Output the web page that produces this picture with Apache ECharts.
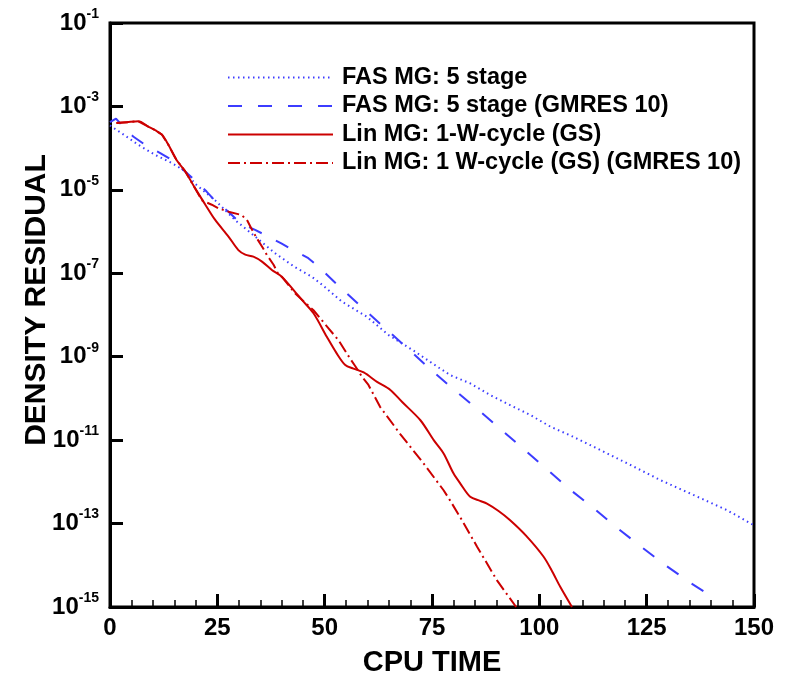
<!DOCTYPE html>
<html>
<head>
<meta charset="utf-8">
<script src="https://cdn.jsdelivr.net/npm/echarts@6/dist/echarts.min.js"></script>
<style>html,body{margin:0;padding:0;background:#fff}#c{width:788px;height:675px}</style>
</head>
<body>
<div id="c"></div>
<script>
// ---- data ----
const seriesNames = [
  'FAS MG: 5 stage',
  'FAS MG: 5 stage (GMRES 10)',
  'Lin MG: 1-W-cycle (GS)',
  'Lin MG: 1 W-cycle (GS) (GMRES 10)'
];
const xTicks = [0, 25, 50, 75, 100, 125, 150];
const yTickExponents = [-15, -13, -11, -9, -7, -5, -3, -1];

const fasX = [0, 3.5, 6.6, 10.5, 14.4, 17.5, 19.8, 24.5, 29.1, 33.8, 38.5, 43.1, 47, 49.7, 54, 59.8, 64.9, 70.7, 76.2, 79.3, 83.9, 88.6, 93.2, 97.9, 102.6, 107.2, 112.7, 120.4, 128.2, 136, 143.7, 150];
const fasY = [3.5e-4, 2.0e-4, 1.2e-4, 6.9e-5, 4.4e-5, 2.8e-5, 1.4e-5, 5.6e-6, 1.9e-6, 7.6e-7, 3.0e-7, 1.4e-7, 8.3e-8, 5.0e-8, 2.1e-8, 9.1e-9, 3.3e-9, 1.4e-9, 5.8e-10, 3.6e-10, 2.3e-10, 1.2e-10, 6.9e-11, 4.0e-11, 2.1e-11, 1.3e-11, 6.9e-12, 2.8e-12, 1.1e-12, 4.8e-13, 2.1e-13, 9.1e-14];

const fasGmX = [0, 1.4, 2.3, 5.4, 8.2, 11.7, 14.4, 17.1, 19.8, 22.5, 24.8, 27.6, 30.3, 33.8, 36.5, 39.9, 42.7, 46.2, 48.7, 53.8, 59.1, 64.3, 69.6, 74.8, 80.2, 85.6, 91.1, 96.4, 101.8, 107.1, 112.7, 118.1, 123.7, 129.4, 135.2, 141.3];
const fasGmY = [4.2e-4, 5.1e-4, 4.0e-4, 1.9e-4, 1.2e-4, 7.6e-5, 5.2e-5, 3.0e-5, 1.7e-5, 9.1e-6, 5.0e-6, 3.0e-6, 1.6e-6, 1.1e-6, 7.9e-7, 5.2e-7, 3.6e-7, 2.3e-7, 1.4e-7, 4.4e-8, 1.4e-8, 4.6e-9, 1.5e-9, 4.8e-10, 1.6e-10, 5.5e-11, 1.8e-11, 6.0e-12, 2.0e-12, 6.6e-13, 2.3e-13, 7.9e-14, 2.8e-14, 1.0e-14, 3.8e-15, 1.5e-15];

const linX = [1.5, 4, 6.6, 8.9, 10.5, 12.1, 13.6, 15.5, 17.5, 19.8, 22.1, 24.5, 27.6, 29.9, 31.5, 33.4, 35.4, 37.7, 40, 43.1, 44.7, 47.4, 50.5, 52.8, 54.8, 56.7, 59.1, 62.2, 65.3, 68, 72.3, 75.4, 77.7, 80, 81.6, 83.9, 86.2, 87.8, 90.5, 93.2, 97, 101, 103, 104.9, 107.6];
const linY = [4.0e-4, 4.2e-4, 4.4e-4, 3.3e-4, 2.7e-4, 2.1e-4, 1.2e-4, 5.2e-5, 2.8e-5, 1.1e-5, 4.6e-6, 1.9e-6, 7.6e-7, 3.6e-7, 2.8e-7, 2.5e-7, 1.9e-7, 1.2e-7, 8.3e-8, 3.6e-8, 2.3e-8, 1.1e-8, 3.0e-9, 1.2e-9, 6.3e-10, 5.2e-10, 4.2e-10, 2.5e-10, 1.6e-10, 8.3e-11, 3.0e-11, 1.0e-11, 4.8e-12, 1.6e-12, 9.1e-13, 4.4e-13, 3.5e-13, 3.0e-13, 2.0e-13, 1.2e-13, 5.0e-14, 1.6e-14, 7.1e-15, 3.0e-15, 1.0e-15];

const linGmX = [1.5, 4, 6.6, 8.9, 10.5, 12.1, 13.6, 15.5, 17.5, 19.8, 21.4, 23.7, 25.3, 27.6, 30.6, 31.9, 32.9, 34.2, 35.4, 36.5, 38.1, 39.1, 40, 43.1, 47.4, 50.9, 53.2, 55.9, 57.1, 58.7, 60.2, 62.9, 67.6, 73, 77.7, 79.2, 81.6, 85.5, 90.1, 94.6];
const linGmY = [4.0e-4, 4.2e-4, 4.4e-4, 3.3e-4, 2.7e-4, 2.1e-4, 1.2e-4, 5.2e-5, 2.8e-5, 1.1e-5, 5.6e-6, 4.4e-6, 3.6e-6, 3.0e-6, 2.5e-6, 1.9e-6, 1.2e-6, 6.9e-7, 4.4e-7, 2.8e-7, 1.6e-7, 1.0e-7, 8.3e-8, 3.3e-8, 1.3e-8, 4.8e-9, 2.5e-9, 9.1e-10, 6.0e-10, 3.3e-10, 2.1e-10, 6.3e-11, 1.4e-11, 2.8e-12, 6.3e-13, 3.6e-13, 1.4e-13, 2.8e-14, 4.4e-15, 1.0e-15];

// ---- chart ----
const FONT = '"Liberation Sans", Arial, sans-serif';
const BLUE = '#3c3cff';
const RED = '#cc0000';
const pairs = (xs, ys) => xs.map((x, i) => [x, ys[i]]);

const chart = echarts.init(document.getElementById('c'), null, {renderer: 'canvas'});
chart.setOption({
  animation: false,
  backgroundColor: '#fff',
  grid: {left: 110, right: 34, top: 23, bottom: 68, show: true, borderColor: '#000', borderWidth: 3,
    containLabel: false, outerBoundsMode: 'none'},
  legend: {
    orient: 'vertical', left: 222, top: 60,
    itemWidth: 105, itemHeight: 14, itemGap: 3.5,
    data: seriesNames,
    itemStyle: {opacity: 0},
    textStyle: {fontFamily: FONT, fontWeight: 'bold', fontSize: 23.5, color: '#000', lineHeight: 25, padding: [0, 0, 0, 4]}
  },
  xAxis: {
    type: 'value', min: xTicks[0], max: xTicks[xTicks.length - 1], interval: 25,
    name: 'CPU TIME', nameLocation: 'middle', nameGap: 41, nameMoveOverlap: false,
    nameTextStyle: {fontFamily: FONT, fontWeight: 'bold', fontSize: 29, color: '#000'},
    axisLine: {lineStyle: {color: '#000', width: 3}},
    axisTick: {inside: true, length: 13, lineStyle: {color: '#000', width: 3}},
    minorTick: {show: true, splitNumber: 5, length: 7, lineStyle: {color: '#000', width: 1.5}},
    splitLine: {show: false},
    axisLabel: {margin: 9, fontFamily: FONT, fontWeight: 'bold', fontSize: 24, color: '#000',
      formatter: v => xTicks.includes(v) ? String(v) : ''}
  },
  yAxis: {
    type: 'log', logBase: 10, min: Math.pow(10, yTickExponents[0]), max: Math.pow(10, yTickExponents[yTickExponents.length - 1]),
    interval: 2,
    name: 'DENSITY RESIDUAL', nameLocation: 'middle', nameGap: 58, nameMoveOverlap: false,
    nameTextStyle: {fontFamily: FONT, fontWeight: 'bold', fontSize: 30, color: '#000', padding: [0, 0, 0, 30]},
    axisLine: {lineStyle: {color: '#000', width: 3}},
    axisTick: {inside: true, length: 13, lineStyle: {color: '#000', width: 3}},
    splitLine: {show: false},
    axisLabel: {
      margin: 11,
      formatter: v => {
        const e = Math.round(Math.log10(v));
        return '{b|10}{s|' + e + '}';
      },
      rich: {
        b: {fontFamily: FONT, fontWeight: 'bold', fontSize: 24, color: '#000', lineHeight: 32},
        s: {fontFamily: FONT, fontWeight: 'bold', fontSize: 14, color: '#000', lineHeight: 14, verticalAlign: 'top'}
      }
    }
  },
  series: [
    {name: seriesNames[0], type: 'line', symbol: 'none', data: pairs(fasX, fasY),
      lineStyle: {color: BLUE, width: 2, type: [1.5, 3.5]}, itemStyle: {color: BLUE}},
    {name: seriesNames[1], type: 'line', symbol: 'none', data: pairs(fasGmX, fasGmY),
      lineStyle: {color: BLUE, width: 2, type: [14, 16]}, itemStyle: {color: BLUE}},
    {name: seriesNames[2], type: 'line', symbol: 'none', smooth: 0.3, data: pairs(linX, linY),
      lineStyle: {color: RED, width: 2, type: 'solid'}, itemStyle: {color: RED}},
    {name: seriesNames[3], type: 'line', symbol: 'none', data: pairs(linGmX, linGmY),
      lineStyle: {color: RED, width: 2, type: [12, 4, 2, 4]}, itemStyle: {color: RED}}
  ]
});
</script>
</body>
</html>
